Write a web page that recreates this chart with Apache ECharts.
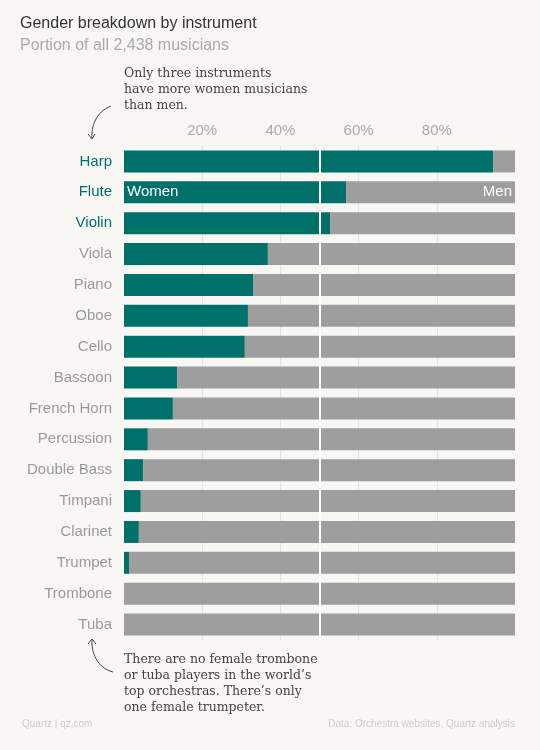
<!DOCTYPE html>
<html><head><meta charset="utf-8">
<script src="https://cdn.jsdelivr.net/npm/echarts@6/dist/echarts.min.js"></script>
<style>html,body{margin:0;padding:0;background:#f8f7f4}#c{width:540px;height:750px}</style>
</head><body><div id="c"></div>
<script>
const categories = ['Harp','Flute','Violin','Viola','Piano','Oboe','Cello','Bassoon','French Horn','Percussion','Double Bass','Timpani','Clarinet','Trumpet','Trombone','Tuba'];
const women = [94.4,56.8,52.7,36.8,33.0,31.7,30.9,13.6,12.5,6.1,4.9,4.3,3.8,1.3,0,0];
const men = women.map(v => +(100 - v).toFixed(1));
const ticks = [20,40,60,80];
const teal = '#00706b', gray = '#9e9e9e';
const chart = echarts.init(document.getElementById('c'));
chart.setOption({
  backgroundColor:'#f8f7f4',
  animation:false,
  grid:{left:124,right:25,top:146,bottom:110},
  xAxis:{type:'value',min:0,max:100,interval:20,position:'top',
    axisLine:{show:false},axisTick:{show:false},
    axisLabel:{color:'#aaa',fontSize:15,fontFamily:'Arial, Liberation Sans',margin:8,
      formatter:v=>ticks.includes(v)?v+'%':''},
    splitLine:{show:true,lineStyle:{color:'#e4e2de',width:1},
      showMinLine:false,showMaxLine:false}},
  yAxis:{type:'category',inverse:true,data:categories,
    axisLine:{show:false},axisTick:{show:false},
    axisLabel:{fontSize:15,fontFamily:'Arial, Liberation Sans',margin:12,
      color:(v,i)=>i<3?teal:'#9a9a9a'}},
  series:[
    {type:'bar',stack:'a',data:women,barWidth:22,itemStyle:{color:teal},
      label:{show:true,position:'insideLeft',color:'#fff',fontSize:15,fontFamily:'Arial, Liberation Sans',offset:[-2,0],
        formatter:p=>p.dataIndex===1?'Women':''},
      markLine:{silent:true,symbol:'none',label:{show:false},
        lineStyle:{color:'#fff',width:2,type:'solid'},data:[{xAxis:50}]}},
    {type:'bar',stack:'a',data:men,barWidth:22,itemStyle:{color:gray},
      label:{show:true,position:'insideRight',color:'#fff',fontSize:15,fontFamily:'Arial, Liberation Sans',offset:[2,0],
        formatter:p=>p.dataIndex===1?'Men':''}}
  ],
  graphic:[
    {type:'text',left:20,top:16,style:{text:'Gender breakdown by instrument',fill:'#333',fontSize:16,fontFamily:'Arial, Liberation Sans'}},
    {type:'text',left:20,top:38,style:{text:'Portion of all 2,438 musicians',fill:'#aaa',fontSize:16,fontFamily:'Arial, Liberation Sans'}},
    {type:'text',left:124,top:66,style:{text:'Only three instruments\nhave more women musicians\nthan men.',fill:'#444',fontSize:12.5,lineHeight:16,fontFamily:'DejaVu Serif, Liberation Serif'}},
    {type:'text',left:124,top:652,style:{text:'There are no female trombone\nor tuba players in the world’s\ntop orchestras. There’s only\none female trumpeter.',fill:'#444',fontSize:12.5,lineHeight:16,fontFamily:'DejaVu Serif, Liberation Serif'}},
    {type:'bezierCurve',shape:{x1:111,y1:106,cpx1:96,cpy1:112,cpx2:91,cpy2:126,x2:92,y2:139},style:{stroke:'#444',fill:'none',lineWidth:1}},
    {type:'polyline',shape:{points:[[88,134],[92,139],[95,134]]},style:{stroke:'#444',fill:'none',lineWidth:1}},
    {type:'bezierCurve',shape:{x1:113,y1:672,cpx1:97,cpy1:668,cpx2:91,cpy2:652,x2:92,y2:639},style:{stroke:'#444',fill:'none',lineWidth:1}},
    {type:'polyline',shape:{points:[[88,644],[92,639],[96,644]]},style:{stroke:'#444',fill:'none',lineWidth:1}},
    {type:'text',left:22,top:719,style:{text:'Quartz | qz.com',fill:'#ccc',fontSize:10,fontFamily:'Arial, Liberation Sans'}},
    {type:'text',right:25,top:719,style:{text:'Data: Orchestra websites, Quartz analysis',fill:'#ccc',fontSize:10,fontFamily:'Arial, Liberation Sans'}}
  ]
});
</script></body></html>
